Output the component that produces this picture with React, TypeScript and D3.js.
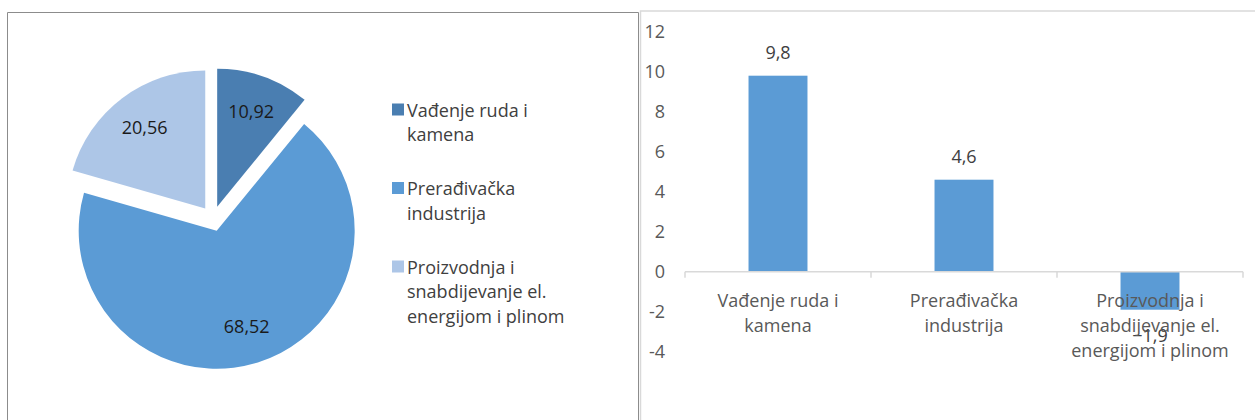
import React, { useEffect, useRef } from 'react';
import * as d3 from 'd3';

const categories = ['Vađenje ruda i kamena', 'Prerađivačka industrija', 'Proizvodnja i snabdijevanje el. energijom i plinom'];
const categoryLines = [
  ['Vađenje ruda i', 'kamena'],
  ['Prerađivačka', 'industrija'],
  ['Proizvodnja i', 'snabdijevanje el.', 'energijom i plinom'],
];
const shareValues = [10.92, 68.52, 20.56];
const growthValues = [9.8, 4.6, -1.9];
const yTicks = [-4, -2, 0, 2, 4, 6, 8, 10, 12];
const pieColors = ['#4a7eb1', '#5b9bd5', '#adc6e7'];

const FONT = '"Open Sans", sans-serif';
const locale = d3.formatLocale({ decimal: ',', thousands: '.', grouping: [3], currency: ['', ''] });
const fmt2 = locale.format('.2f');
const fmt1 = locale.format('.1f');

export default function App() {
  const ref = useRef<SVGSVGElement | null>(null);

  useEffect(() => {
    const svg = d3.select(ref.current);
    svg.selectAll('*').remove();

    // panel frames
    svg.append('path')
      .attr('d', 'M7.5,420 V12.5 H638.5 V420')
      .attr('fill', 'none')
      .attr('stroke', '#8c8c8c')
      .attr('stroke-width', 1);
    svg.append('path')
      .attr('d', 'M640.5,420 V11 H1255')
      .attr('fill', 'none')
      .attr('stroke', '#d9d9d9')
      .attr('stroke-width', 1.5);

    // ---- pie ----
    const cx = 212.9, cy = 218.6, r = 138, explode = 12.7;
    const pie = d3.pie<number>().sort(null).value(d => d);
    const arcs = pie(shareValues);
    const arc = d3.arc<d3.PieArcDatum<number>>().innerRadius(0).outerRadius(r);
    const labelArc = d3.arc<d3.PieArcDatum<number>>().innerRadius(r * 0.73).outerRadius(r * 0.73);

    const pg = svg.append('g').attr('transform', 'translate(' + cx + ',' + cy + ')');
    const slices = pg.selectAll('g.slice')
      .data(arcs)
      .enter().append('g')
      .attr('class', 'slice')
      .attr('transform', function(d) {
        const mid = (d.startAngle + d.endAngle) / 2;
        return 'translate(' + explode * Math.sin(mid) + ',' + (-explode * Math.cos(mid)) + ')';
      });
    slices.append('path')
      .attr('d', arc)
      .attr('fill', function(d, i) { return pieColors[i]; });
    slices.append('text')
      .attr('transform', function(d) { return 'translate(' + labelArc.centroid(d) + ')'; })
      .attr('text-anchor', 'middle')
      .attr('dy', '0.35em')
      .attr('font-family', FONT)
      .attr('font-size', 18)
      .attr('fill', '#1a1a1a')
      .text(function(d) { return fmt2(d.data); });

    // legend
    const lg = svg.append('g');
    const entryTop = [116.5, 195, 273.5];
    categoryLines.forEach(function(lines, i) {
      lg.append('rect')
        .attr('x', 392)
        .attr('y', entryTop[i] - 13)
        .attr('width', 12)
        .attr('height', 12)
        .attr('fill', pieColors[i]);
      const t = lg.append('text')
        .attr('x', 407)
        .attr('y', entryTop[i])
        .attr('font-family', FONT)
        .attr('font-size', 18)
        .attr('fill', '#404040');
      lines.forEach(function(line, j) {
        t.append('tspan').attr('x', 407).attr('dy', j === 0 ? 0 : 24.5).text(line);
      });
    });

    // ---- bar chart ----
    const y = d3.scaleLinear().domain([-4, 12]).range([351.7, 31.7]);
    const x = d3.scaleBand().domain(categories).range([685, 1243]).padding(0);
    const barW = x.step() * 0.317;

    const bg = svg.append('g');
    bg.selectAll('text.ytick')
      .data(yTicks)
      .enter().append('text')
      .attr('class', 'ytick')
      .attr('x', 665)
      .attr('y', function(d) { return y(d); })
      .attr('dy', '0.35em')
      .attr('text-anchor', 'end')
      .attr('font-family', FONT)
      .attr('font-size', 18)
      .attr('fill', '#595959')
      .text(function(d) { return String(d); });

    bg.selectAll('rect.bar')
      .data(growthValues)
      .enter().append('rect')
      .attr('class', 'bar')
      .attr('x', function(d, i) { return (x(categories[i]) as number) + (x.step() - barW) / 2; })
      .attr('width', barW)
      .attr('y', function(d) { return y(Math.max(d, 0)); })
      .attr('height', function(d) { return Math.abs(y(d) - y(0)); })
      .attr('fill', '#5b9bd5');

    // x axis line + ticks
    const axisY = y(0);
    bg.append('line')
      .attr('x1', 685).attr('x2', 1243)
      .attr('y1', axisY).attr('y2', axisY)
      .attr('stroke', '#d9d9d9').attr('stroke-width', 1.5);
    const tickXs = categories.map(function(c) { return x(c) as number; }).concat([1243]);
    bg.selectAll('line.xtick')
      .data(tickXs)
      .enter().append('line')
      .attr('class', 'xtick')
      .attr('x1', function(d) { return d; }).attr('x2', function(d) { return d; })
      .attr('y1', axisY).attr('y2', axisY + 6)
      .attr('stroke', '#d9d9d9').attr('stroke-width', 1.5);

    // value labels
    bg.selectAll('text.val')
      .data(growthValues)
      .enter().append('text')
      .attr('class', 'val')
      .attr('x', function(d, i) { return (x(categories[i]) as number) + x.step() / 2; })
      .attr('y', function(d) { return d >= 0 ? y(d) - 17 : y(d) + 32; })
      .attr('text-anchor', 'middle')
      .attr('font-family', FONT)
      .attr('font-size', 18)
      .attr('fill', '#404040')
      .text(function(d) { return fmt1(d); });

    // category labels
    categoryLines.forEach(function(lines, i) {
      const cxl = (x(categories[i]) as number) + x.step() / 2;
      const t = bg.append('text')
        .attr('x', cxl)
        .attr('y', 306.5)
        .attr('text-anchor', 'middle')
        .attr('font-family', FONT)
        .attr('font-size', 18)
        .attr('fill', '#595959');
      lines.forEach(function(line, j) {
        t.append('tspan').attr('x', cxl).attr('dy', j === 0 ? 0 : 25.3).text(line);
      });
    });
  }, []);

  return (
    <svg
      ref={ref}
      width={1255}
      height={420}
      style={{ position: 'absolute', left: 0, top: 0, background: '#fff' }}
    ></svg>
  );
}
